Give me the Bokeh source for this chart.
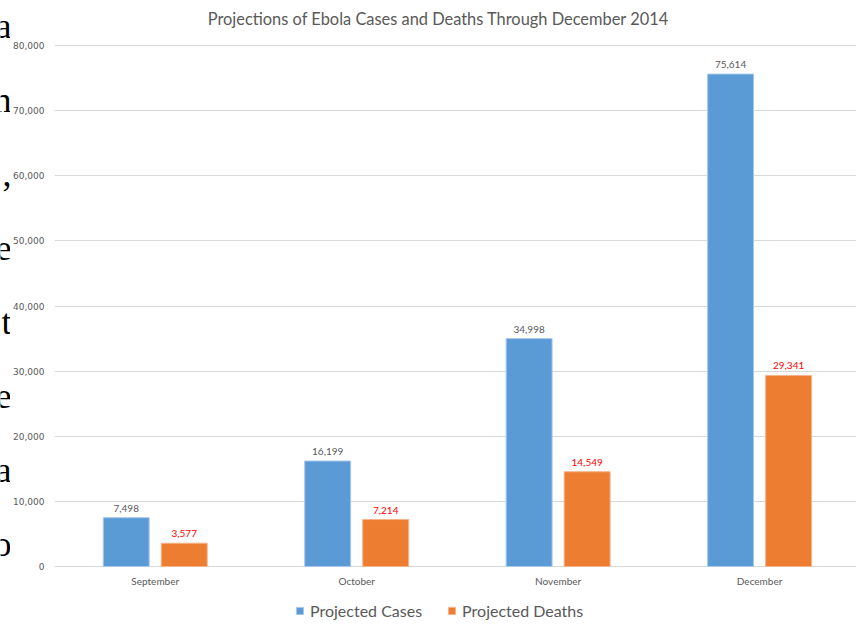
from bokeh.plotting import figure
from bokeh.layouts import row
from bokeh.models import (ColumnDataSource, FixedTicker, NumeralTickFormatter, Range1d,
                          Legend, LegendItem, Label)
from bokeh.core.properties import value
from bokeh.embed import file_html
from bokeh.resources import INLINE

months = ["September", "October", "November", "December"]
cases = [7498, 16199, 34998, 75614]
deaths = [3577, 7214, 14549, 29341]
y_ticks = [0, 10000, 20000, 30000, 40000, 50000, 60000, 70000, 80000]
side_letters = ["a", "n", ",", "e", "t", "e", "a", "o"]

centers = [i + 0.5 for i in range(len(months))]
off = 0.144
bw = 0.228

src = ColumnDataSource(dict(
    xc=[c - off for c in centers], xd=[c + off for c in centers],
    cases=cases, deaths=deaths,
    lc=[f"{v:,}" for v in cases], ld=[f"{v:,}" for v in deaths],
))
msrc = ColumnDataSource(dict(x=centers, y=[0] * len(centers), t=months))

W, H = 856, 629
SW = 10                    # strip with the cut-off letters of the page behind
FL = 53                    # plot area left edge (window px)
Y0_PX, Y80_PX = 566, 45    # pixel rows of 0 and 80,000
ppu = (Y0_PX - Y80_PX) / 80000.0
y_top = 80000 + Y80_PX / ppu
y_bot = -(H - Y0_PX) / ppu

# left strip: cut-off letters of the surrounding page
strip = figure(width=SW, height=H, output_backend="svg", toolbar_location=None,
               x_range=Range1d(0, SW), y_range=Range1d(H, 0),
               min_border_left=0, min_border_right=0,
               min_border_top=0, min_border_bottom=0)
strip.axis.visible = False
strip.grid.visible = False
strip.outline_line_color = None
strip.background_fill_color = "white"
strip.border_fill_color = "white"
strip.text(x=[SW + 1] * len(side_letters), y=[25 + 74 * i for i in range(len(side_letters))],
           text=side_letters, text_align="right", text_baseline="alphabetic",
           text_font=value("Liberation Serif"), text_font_size="36px", text_color="black")

p = figure(width=W - SW, height=H, output_backend="svg", toolbar_location=None,
           x_range=Range1d(0, 3.981), y_range=Range1d(y_bot, y_top),
           min_border_left=FL - SW, min_border_right=0, min_border_top=0,
           min_border_bottom=0)
p.outline_line_color = None
p.background_fill_color = "white"
p.border_fill_color = "white"

rc = p.vbar(x="xc", top="cases", width=bw, source=src, fill_color="#5B9BD5",
            line_color="#A9C8EA", line_width=1)
rd = p.vbar(x="xd", top="deaths", width=bw, source=src, fill_color="#ED7D31",
            line_color="#F5B38A", line_width=1)

p.text(x="xc", y="cases", text="lc", source=src, text_align="center", text_baseline="bottom",
       y_offset=-6, text_font=value("Lato"), text_font_size="10px", text_color="#595959")
p.text(x="xd", y="deaths", text="ld", source=src, text_align="center", text_baseline="bottom",
       y_offset=-6, text_font=value("Lato"), text_font_size="10px", text_color="#FF0000")

# category labels under the baseline
p.text(x="x", y="y", text="t", source=msrc, text_align="center", text_baseline="middle",
       y_offset=14, text_font=value("Lato"), text_font_size="10px", text_color="#595959")

# axes
p.yaxis.ticker = FixedTicker(ticks=y_ticks)
p.yaxis.formatter = NumeralTickFormatter(format="0,0")
p.yaxis.axis_line_color = None
p.yaxis.major_tick_line_color = None
p.yaxis.minor_tick_line_color = None
p.yaxis.major_tick_in = 0
p.yaxis.major_tick_out = 0
p.yaxis.minor_tick_in = 0
p.yaxis.minor_tick_out = 0
p.yaxis.major_label_text_font = "DejaVu Sans"
p.yaxis.major_label_text_font_size = "9px"
p.yaxis.major_label_text_color = "#595959"
p.yaxis.major_label_standoff = 10
p.xaxis.visible = False

p.xgrid.grid_line_color = None
p.ygrid.ticker = FixedTicker(ticks=y_ticks)
p.ygrid.grid_line_color = "#D9D9D9"
p.ygrid.grid_line_width = 1

legend = Legend(items=[LegendItem(label="Projected Cases", renderers=[rc]),
                       LegendItem(label="Projected Deaths", renderers=[rd])],
                orientation="horizontal", location=(296 - FL - 2, 9),
                label_text_font="Lato", label_text_font_size="16px",
                label_text_color="#595959", glyph_width=9, glyph_height=9,
                spacing=25, label_standoff=6, border_line_color=None,
                background_fill_alpha=0, margin=0, padding=2)
p.add_layout(legend, "center")

p.add_layout(Label(x=437 - FL, y=H - 18, x_units="screen", y_units="screen",
                   text="Projections of Ebola Cases and Deaths Through December 2014",
                   text_align="center", text_baseline="middle",
                   text_font="Lato", text_font_size="16.4px", text_color="#595959"))

out = row(strip, p)
open("out.html", "w").write(file_html(out, INLINE))
